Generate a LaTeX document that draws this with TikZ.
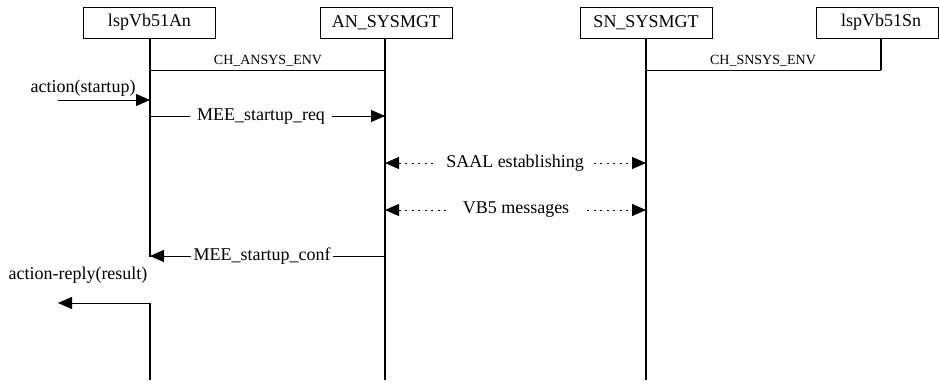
\documentclass[tikz,border=0pt]{standalone}
\usepackage{fontspec}
\setmainfont{Liberation Serif}
\usetikzlibrary{arrows.meta,calc}
\begin{document}
\begin{tikzpicture}[x=1pt,y=-1pt,
  box/.style={draw,line width=0.9pt,minimum height=31pt,minimum width=132pt,inner sep=0pt,font=\fontsize{18}{20}\selectfont},
  life/.style={line width=1.4pt},
  chan/.style={line width=0.9pt},
  chanlbl/.style={font=\fontsize{14}{16}\selectfont,inner sep=0pt},
  msg/.style={line width=0.9pt,-{Triangle[length=14pt,width=12pt]}},
  dmsg/.style={line width=1pt,dash pattern=on 2pt off 4.5pt,{Triangle[length=14pt,width=12pt]}-{Triangle[length=14pt,width=12pt]}},
  lbl/.style={fill=white,inner xsep=7pt,inner ysep=1pt,font=\fontsize{18}{20}\selectfont},
  plain/.style={inner sep=0pt,font=\fontsize{18}{20}\selectfont}]
\useasboundingbox (0,0) rectangle (939,383);
% instance boxes
\node[box] (an) at (149.5,22.5) {lspVb51An};
\node[box] (ansys) at (386,22.5) {AN\_SYSMGT};
\node[box] (snsys) at (646,22.5) {SN\_SYSMGT};
\node[box,minimum width=122pt] (sn) at (877,22.5) {\hspace*{8pt}lspVb51Sn};
% lifeline coordinates
\coordinate (an0) at (150,38);
\coordinate (an1) at (150,257);
\coordinate (an2) at (150,303);
\coordinate (an3) at (150,380);
\coordinate (ans0) at (385,38);
\coordinate (ans1) at (385,380);
\coordinate (sns0) at (646,38);
\coordinate (sns1) at (646,380);
\coordinate (sn0) at (881,38);
\coordinate (sn1) at (881,70);
\draw[life] (an0) -- (an1);
\draw[life] (an2) -- (an3);
\draw[life] (ans0) -- (ans1);
\draw[life] (sns0) -- (sns1);
\draw[life] (sn0) -- (sn1);
% channels
\coordinate (ca) at (150,70);
\coordinate (cb) at (385,70);
\coordinate (cc) at (646,70);
\coordinate (cd) at (881,70);
\draw[chan] (ca) -- (cb);
\draw[chan] (cc) -- (cd);
\node[chanlbl] (chan1) at (268,61) {CH\_ANSYS\_ENV};
\node[chanlbl] (chan2) at (763,61) {CH\_SNSYS\_ENV};
% environment input
\node[plain] (act) at (83,88) {action(startup)};
\coordinate (envin) at (58,100);
\coordinate (anin) at (150,100);
\draw[msg] (envin) -- (anin);
% MEE_startup_req
\coordinate (r0) at (150,116);
\coordinate (r1) at (385,116);
\draw[msg] (r0) -- (r1);
\node[lbl] (req) at (261,117) {MEE\_startup\_req};
% SAAL establishing
\coordinate (s0) at (385,163);
\coordinate (s1) at (646,163);
\draw[dmsg] (s0) -- (s1);
\node[lbl,inner xsep=10pt] (saal) at (515,163) {SAAL establishing};
% VB5 messages
\coordinate (v0) at (385,210);
\coordinate (v1) at (646,210);
\draw[dmsg] (v0) -- (v1);
\node[lbl,inner xsep=15pt] (vb5) at (516,210) {VB5 messages};
% MEE_startup_conf
\coordinate (c0) at (385,256);
\coordinate (c1) at (150,256);
\draw[msg] (c0) -- (c1);
\node[lbl,inner xsep=3pt] (conf) at (262,256) {MEE\_startup\_conf};
% environment output
\node[plain] (rep) at (78,275) {action-reply(result)};
\coordinate (anout) at (150,303);
\coordinate (envout) at (58,303);
\draw[msg] (anout) -- (envout);
\end{tikzpicture}
\end{document}
